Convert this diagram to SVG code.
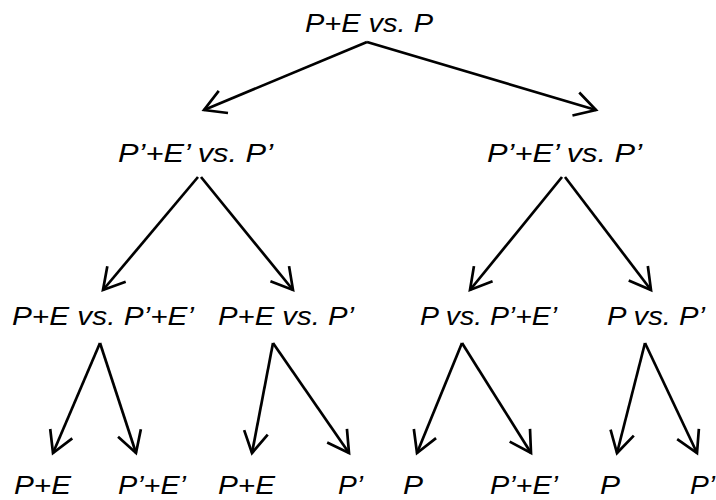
<svg xmlns="http://www.w3.org/2000/svg" width="716" height="500" viewBox="0 0 716 500">
  <style>
    .lbl { font-family: "Liberation Sans", Arial, sans-serif; font-style: italic; font-size: 26px; fill: #000; }
    .edge { stroke: #000; stroke-width: 2.7; fill: none; marker-end: url(#head); }
  </style>
  <defs>
    <marker id="head" markerUnits="userSpaceOnUse" markerWidth="30" markerHeight="30" refX="0" refY="0" viewBox="-24 -15 28 30" orient="auto" overflow="visible">
      <path d="M -21 -12 L 0 0 L -21 12" fill="none" stroke="#000" stroke-width="2.7" stroke-linejoin="miter"/>
    </marker>
  </defs>
  <rect width="716" height="500" fill="#fff"/>

  <!-- root -->
  <g id="root"><text class="lbl" x="305" y="32" textLength="128" lengthAdjust="spacingAndGlyphs">P+E vs. P</text></g>

  <!-- second level -->
  <g id="n-left"><text class="lbl" x="118" y="162" textLength="155" lengthAdjust="spacingAndGlyphs">P’+E’ vs. P’</text></g>
  <g id="n-right"><text class="lbl" x="487" y="162" textLength="155" lengthAdjust="spacingAndGlyphs">P’+E’ vs. P’</text></g>

  <!-- third level -->
  <g id="n-ll"><text class="lbl" x="12" y="325" textLength="182" lengthAdjust="spacingAndGlyphs">P+E vs. P’+E’</text></g>
  <g id="n-lr"><text class="lbl" x="218" y="325" textLength="136" lengthAdjust="spacingAndGlyphs">P+E vs. P’</text></g>
  <g id="n-rl"><text class="lbl" x="420" y="325" textLength="137" lengthAdjust="spacingAndGlyphs">P vs. P’+E’</text></g>
  <g id="n-rr"><text class="lbl" x="607" y="325" textLength="98" lengthAdjust="spacingAndGlyphs">P vs. P’</text></g>

  <!-- leaves -->
  <g id="leaf1"><text class="lbl" x="14" y="494" textLength="57" lengthAdjust="spacingAndGlyphs">P+E</text></g>
  <g id="leaf2"><text class="lbl" x="118" y="494" textLength="68" lengthAdjust="spacingAndGlyphs">P’+E’</text></g>
  <g id="leaf3"><text class="lbl" x="218" y="494" textLength="57" lengthAdjust="spacingAndGlyphs">P+E</text></g>
  <g id="leaf4"><text class="lbl" x="338" y="494" textLength="25" lengthAdjust="spacingAndGlyphs">P’</text></g>
  <g id="leaf5"><text class="lbl" x="403" y="494" textLength="20" lengthAdjust="spacingAndGlyphs">P</text></g>
  <g id="leaf6"><text class="lbl" x="490" y="494" textLength="68" lengthAdjust="spacingAndGlyphs">P’+E’</text></g>
  <g id="leaf7"><text class="lbl" x="600" y="494" textLength="20" lengthAdjust="spacingAndGlyphs">P</text></g>
  <g id="leaf8"><text class="lbl" x="690" y="494" textLength="25" lengthAdjust="spacingAndGlyphs">P’</text></g>

  <!-- connectors -->
  <g id="connectors">
    <line class="edge" x1="367" y1="42" x2="204" y2="110"/>
    <line class="edge" x1="367" y1="42" x2="596" y2="110"/>

    <line class="edge" x1="198" y1="177" x2="103" y2="290"/>
    <line class="edge" x1="201" y1="177" x2="293" y2="290"/>
    <line class="edge" x1="562" y1="177" x2="470" y2="290"/>
    <line class="edge" x1="565" y1="177" x2="651" y2="290"/>

    <line class="edge" x1="100" y1="343" x2="53" y2="453"/>
    <line class="edge" x1="100" y1="343" x2="136" y2="453"/>
    <line class="edge" x1="273" y1="343" x2="252" y2="453"/>
    <line class="edge" x1="273" y1="343" x2="349" y2="453"/>
    <line class="edge" x1="462" y1="343" x2="417" y2="453"/>
    <line class="edge" x1="462" y1="343" x2="531" y2="453"/>
    <line class="edge" x1="645" y1="343" x2="617" y2="453"/>
    <line class="edge" x1="645" y1="343" x2="697" y2="453"/>
  </g>
</svg>
